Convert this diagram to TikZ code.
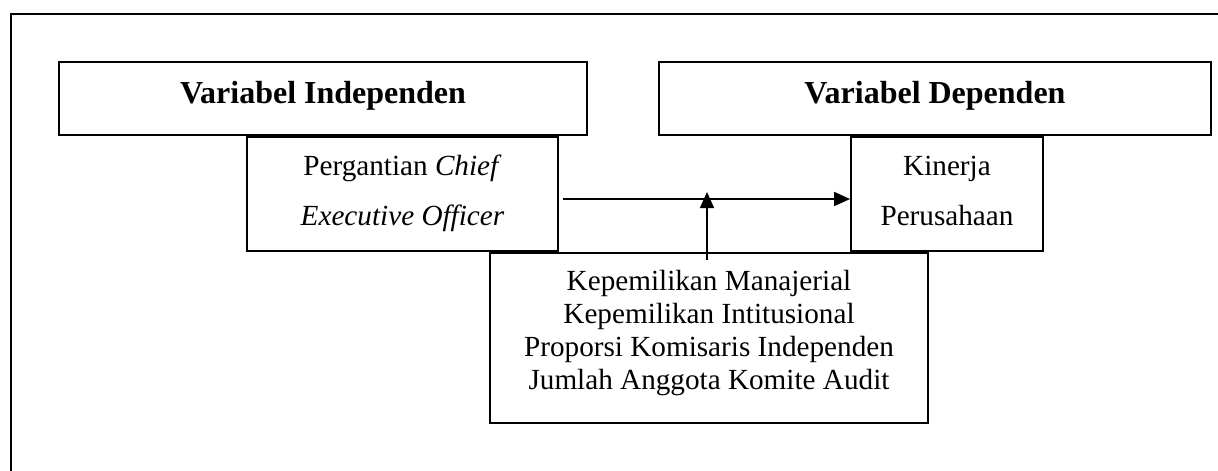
\documentclass[tikz,border=0pt]{standalone}
\usepackage{fontspec}
\setmainfont{Liberation Serif}
\usetikzlibrary{calc,arrows.meta}
\tikzset{
  box/.style={draw, line width=1.8pt, inner sep=0pt, rectangle},
  headbox/.style={box, font={\fontsize{32}{38}\selectfont\bfseries}, text height=20pt, text depth=10.4pt},
  varbox/.style={box, align=center, font={\fontsize{29.2}{50}\selectfont}, text height=62pt, text depth=0pt},
  modbox/.style={box, align=center, font={\fontsize{29.2}{33}\selectfont}, text height=102pt, text depth=0pt},
  arr/.style={line width=1.5pt, -{Triangle[length=16pt,width=14pt]}},
  frame/.style={line width=2.2pt}
}
\begin{document}
\begin{tikzpicture}[x=1pt,y=-1pt]
\useasboundingbox (0,0) rectangle (1218,471);
\coordinate (fa) at (1218,14);
\coordinate (fb) at (11,14);
\coordinate (fc) at (11,471);
\draw[frame] (fa) -- (fb) -- (fc);
\node[headbox, minimum width=528pt, minimum height=73pt] (vi) at (323,98.5) {Variabel Independen};
\node[headbox, minimum width=552pt, minimum height=73pt] (vd) at (935,98.5) {Variabel Dependen};
\node[varbox, minimum width=311pt, minimum height=114pt] (pcg) at (402.5,194) {Pergantian \textit{Chief}\\\textit{Executive Officer}};
\node[varbox, minimum width=192pt, minimum height=114pt] (kin) at (947,194) {Kinerja\\Perusahaan};
\node[modbox, minimum width=438pt, minimum height=170pt] (mod) at (709,338) {Kepemilikan Manajerial\\Kepemilikan Intitusional\\Proporsi Komisaris Independen\\Jumlah Anggota Komite Audit};
\draw[arr] ($(pcg.east)+(4,5)$) -- (kin.west |- {$(pcg.east)+(4,5)$});
\coordinate (tip) at (707,192);
\draw[arr] ($(tip |- mod.north)+(0,8)$) -- (tip);
\end{tikzpicture}
\end{document}
